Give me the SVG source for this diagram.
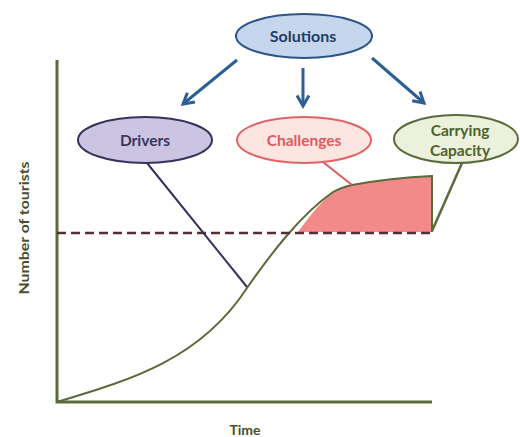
<svg xmlns="http://www.w3.org/2000/svg" width="520" height="437" viewBox="0 0 520 437">
<style>
.lbl{font-family:Lato,"Open Sans","Liberation Sans",sans-serif;font-weight:bold;text-anchor:middle}
.arrow{stroke:#2d5f96;stroke-width:3;fill:none}
.axis{stroke:#5b6a3a;stroke-width:3;fill:none}
</style>
<defs>
<marker id="ah" viewBox="0 0 10 10" refX="8" refY="5" markerWidth="5" markerHeight="5" orient="auto" markerUnits="strokeWidth">
<path d="M1,1 L8,5 L1,9" fill="none" stroke="#2d5f96" stroke-width="2"/>
</marker>
</defs>
<rect width="520" height="437" fill="#ffffff"/>
<g id="chart">
<path d="M298,232 Q318,204 333,192 L352,185 Q390,178 432,176 L432,232 Z" fill="#f28a8a" stroke="none"/>
<path class="axis" d="M57,60 L57,402 L432,402"/>
<path d="M57,402 C130,380 200,360 247,288 C270,255 300,215 333,192 Q340,188 352,185 Q390,178 432,176 L432,232" fill="none" stroke="#5b6a3a" stroke-width="2"/>
<line x1="57" y1="233" x2="432" y2="233" stroke="#5b2a33" stroke-width="2.5" stroke-dasharray="9,5"/>
<text class="lbl" x="245" y="435" font-size="14" fill="#4a4f2a">Time</text>
<text class="lbl" transform="translate(29,228) rotate(-90)" font-size="14" textLength="133" lengthAdjust="spacingAndGlyphs" fill="#4a4f2a">Number of tourists</text>
</g>
<g id="connectors">
<line class="arrow" x1="237" y1="60" x2="183" y2="104" marker-end="url(#ah)"/>
<line class="arrow" x1="303" y1="68" x2="303" y2="106" marker-end="url(#ah)"/>
<line class="arrow" x1="372" y1="58" x2="424" y2="103" marker-end="url(#ah)"/>
<line x1="147" y1="163" x2="247" y2="287" stroke="#36325e" stroke-width="2"/>
<line x1="323" y1="162" x2="352" y2="185" stroke="#e05a5a" stroke-width="2"/>
<line x1="432" y1="231" x2="462" y2="163" stroke="#5b6a3a" stroke-width="2.5"/>
</g>
<g id="solutions">
<ellipse cx="304" cy="36" rx="68" ry="22" fill="#c6d6ec" stroke="#2d5487" stroke-width="2"/>
<text class="lbl" x="303" y="42" font-size="16" fill="#1f3d66">Solutions</text>
</g>
<g id="drivers">
<ellipse cx="145" cy="140" rx="67" ry="23" fill="#cbc5e2" stroke="#36325e" stroke-width="2"/>
<text class="lbl" x="145" y="146" font-size="15.5" fill="#3b3660">Drivers</text>
</g>
<g id="challenges">
<ellipse cx="304" cy="140" rx="67" ry="23" fill="#fde5e2" stroke="#e06464" stroke-width="2"/>
<text class="lbl" x="304" y="146" font-size="15.5" fill="#e05a5a">Challenges</text>
</g>
<g id="carrying">
<ellipse cx="456" cy="139" rx="62" ry="24" fill="#ecf1de" stroke="#5b6a3a" stroke-width="2"/>
<text class="lbl" x="460" y="136" font-size="15.5" fill="#4f6228">Carrying</text>
<text class="lbl" x="460" y="156" font-size="15.5" fill="#4f6228">Capacity</text>
</g>
</svg>
